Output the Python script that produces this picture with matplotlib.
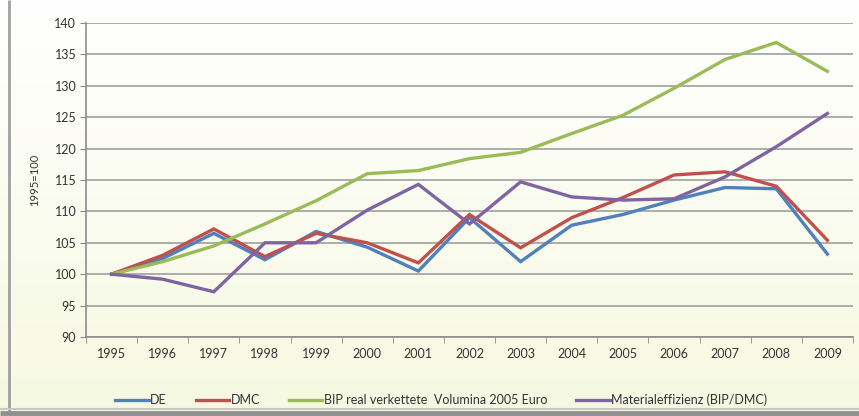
import numpy as np
import matplotlib
matplotlib.use("Agg")
from matplotlib import pyplot as plt

# Index series, 1995 = 100
years = list(range(1995, 2010))
de = [100, 102.5, 106.5, 102.3, 106.8, 104.3, 100.5, 109.0, 102.0, 107.8, 109.5, 111.8, 113.8, 113.6, 103.2]
dmc = [100, 103.0, 107.2, 102.8, 106.5, 105.0, 101.8, 109.5, 104.2, 109.0, 112.2, 115.8, 116.3, 114.0, 105.4]
bip = [100, 102.0, 104.5, 108.0, 111.7, 116.0, 116.5, 118.4, 119.4, 122.4, 125.3, 129.6, 134.2, 136.9, 132.3]
mat_eff = [100, 99.2, 97.2, 105.0, 105.0, 110.2, 114.3, 108.0, 114.7, 112.3, 111.8, 112.0, 115.5, 120.3, 125.6]

series = [
    ("DE", de, "#4F81BD"),
    ("DMC", dmc, "#C0504D"),
    ("BIP real verkettete  Volumina 2005 Euro", bip, "#9BBB59"),
    ("Materialeffizienz (BIP/DMC)", mat_eff, "#8064A2"),
]

plt.rcParams['font.family'] = ['Lato', 'DejaVu Sans']

fig = plt.figure(figsize=(8.59, 4.16), dpi=100)

# background: white at top fading to a pale cream, grey frame on left and bottom
bg = fig.add_axes([0, 0, 1, 1], zorder=-10)
grad = np.linspace(0, 1, 256).reshape(-1, 1)
top = np.array([1.0, 1.0, 1.0])
bottom = np.array([0.965, 0.975, 0.88])
img = top + (bottom - top) * grad[..., None]
bg.imshow(img, aspect="auto", extent=[0, 1, 0, 1], origin="upper")
bg.plot([0.0105, 0.0105], [0.012, 1.0], color="#a0a0a0", lw=2.0, solid_capstyle="butt")
bg.plot([0.0, 1.0], [0.007, 0.007], color="#8f8f8f", lw=3.5, solid_capstyle="butt")
bg.plot([0.0, 1.0], [0.017, 0.017], color="#c8c8c0", lw=1.5, solid_capstyle="butt")
bg.set_xlim(0, 1)
bg.set_ylim(0, 1)
bg.axis("off")

ax = fig.add_axes([0.1001, 0.19, 0.8929, 0.7547])
ax.patch.set_alpha(0)

x = np.arange(len(years))
for label, vals, col in series:
    ax.plot(x, vals, color=col, lw=2.4, label=label, solid_joinstyle="miter")

ax.set_xlim(-0.5, len(years) - 0.5)
ax.set_ylim(90, 140)
ax.set_yticks(range(90, 141, 5))
ax.set_xticks(x)
ax.set_xticklabels(years)
ax.set_xticks(np.arange(-0.5, len(years)), minor=True)
ax.tick_params(axis="x", which="major", length=0, pad=8, labelsize=9, labelcolor="#333333")
ax.tick_params(axis="x", which="minor", length=4, color="#8c8c8c", direction="out")
ax.tick_params(axis="y", length=4, color="#8c8c8c", labelsize=9, labelcolor="#333333", pad=3)

ax.grid(axis="y", color="#a6a6a6", lw=1.3)
ax.set_axisbelow(True)
for side in ["top", "right"]:
    ax.spines[side].set_visible(False)
for side in ["left", "bottom"]:
    ax.spines[side].set_color("#8c8c8c")
    ax.spines[side].set_linewidth(1.2)

ax.set_ylabel("1995=100", fontsize=8, color="#333333", labelpad=10)
ax.yaxis.set_label_coords(-0.06, 0.5)

ax.legend(loc="center", bbox_to_anchor=(0.463, -0.2), ncol=4, frameon=False,
          fontsize=9, handlelength=2.7, handletextpad=0.1, columnspacing=2.3,
          labelcolor="#333333")

fig.savefig("out.png", dpi=100)
